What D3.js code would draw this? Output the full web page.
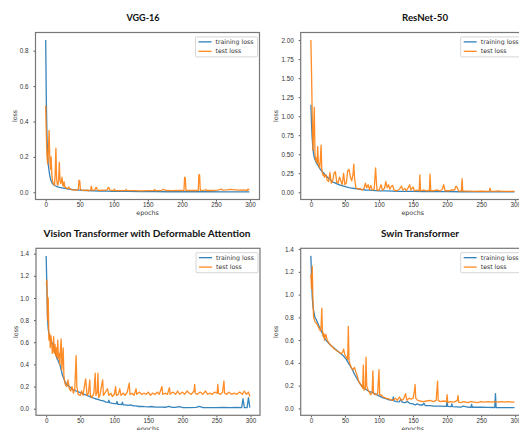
<!DOCTYPE html>
<html>
<head>
<meta charset="utf-8">
<script src="https://cdn.jsdelivr.net/npm/d3@7"></script>
<style>
  body { margin: 0; background: #fff; }
  svg { display: block; font-family: "DejaVu Sans", sans-serif; }
</style>
</head>
<body>
<svg id="chart" width="519" height="430"></svg>
<script>
// [epoch, loss] pairs
const vggTrain = [[0,0.86],[1,0.5],[2,0.3],[3,0.2],[4,0.15],[5,0.12],[6,0.095],[7,0.078],[8,0.065],[9,0.055],
  [10,0.048],[12,0.042],[14,0.037],[16,0.033],[18,0.03],[20,0.028],[24,0.025],[28,0.022],[32,0.019],[36,0.017],
  [40,0.015],[45,0.013],[50,0.012],[55,0.011],[60,0.01],[70,0.008],[80,0.007],[90,0.006],[100,0.005],[120,0.005],
  [140,0.004],[160,0.004],[180,0.003],[200,0.003],[220,0.003],[240,0.003],[260,0.002],[280,0.002],[299,0.002]];
const vggTest = [[0,0.49],[1,0.32],[2,0.2],[3,0.16],[4,0.24],[5,0.35],[6,0.2],[7,0.13],[8,0.2],[9,0.1],
  [10,0.065],[11,0.05],[12,0.045],[13,0.04],[14,0.11],[15,0.25],[16,0.08],[17,0.045],[18,0.04],[19,0.07],
  [20,0.17],[21,0.07],[22,0.05],[23,0.06],[24,0.085],[25,0.04],[26,0.035],[27,0.06],[28,0.03],[30,0.025],
  [32,0.02],[34,0.03],[35,0.02],[38,0.015],[42,0.012],[46,0.012],[48,0.02],[49,0.068],[50,0.065],[51,0.015],
  [55,0.01],[60,0.012],[63,0.01],[66,0.012],[67,0.035],[68,0.012],[72,0.012],[74,0.028],[75,0.025],[76,0.012],
  [80,0.01],[85,0.012],[90,0.012],[92,0.028],[93,0.025],[94,0.012],[100,0.01],[101,0.018],[102,0.01],[110,0.009],
  [117,0.01],[118,0.016],[119,0.01],[130,0.009],[140,0.008],[150,0.009],[159,0.01],[160,0.016],[161,0.009],[170,0.01],
  [172,0.016],[174,0.015],[176,0.01],[185,0.009],[195,0.01],[203,0.01],[204,0.085],[205,0.08],[206,0.01],[215,0.01],
  [224,0.01],[225,0.1],[226,0.098],[227,0.01],[234,0.012],[235,0.016],[236,0.01],[245,0.01],[252,0.012],[256,0.015],
  [258,0.018],[260,0.012],[265,0.013],[272,0.016],[278,0.014],[285,0.012],[290,0.013],[296,0.01],[297,0.018],[299,0.012]];

const resnetTrain = [[0,1.15],[1,0.88],[2,0.7],[3,0.58],[4,0.5],[5,0.46],[6,0.43],[7,0.41],[8,0.39],[9,0.37],
  [10,0.36],[11,0.345],[12,0.33],[13,0.315],[14,0.3],[15,0.29],[16,0.28],[17,0.27],[18,0.26],[19,0.25],
  [20,0.24],[22,0.22],[24,0.2],[26,0.185],[28,0.17],[30,0.15],[32,0.135],[36,0.12],[40,0.105],[44,0.09],
  [48,0.08],[52,0.07],[56,0.062],[60,0.056],[64,0.05],[68,0.045],[72,0.04],[76,0.035],[80,0.03],[85,0.028],
  [90,0.025],[95,0.023],[100,0.02],[110,0.018],[120,0.015],[130,0.013],[140,0.012],[150,0.011],[165,0.01],[180,0.009],
  [200,0.008],[220,0.007],[240,0.006],[260,0.006],[280,0.005],[299,0.005]];
const resnetTest = [[0,2.0],[1,1.55],[2,1.0],[3,0.55],[4,0.8],[5,1.12],[6,0.5],[7,0.42],[8,0.45],[9,0.38],
  [10,0.6],[11,0.4],[12,0.35],[13,0.32],[14,0.45],[15,0.62],[16,0.3],[17,0.25],[18,0.22],[19,0.24],
  [20,0.2],[22,0.23],[24,0.16],[26,0.14],[28,0.26],[30,0.12],[32,0.15],[34,0.25],[36,0.27],[38,0.13],
  [40,0.12],[42,0.2],[44,0.15],[46,0.1],[48,0.25],[50,0.1],[52,0.12],[54,0.28],[56,0.3],[58,0.2],
  [60,0.15],[62,0.25],[63,0.37],[64,0.2],[66,0.06],[68,0.05],[70,0.04],[72,0.05],[75,0.03],[78,0.05],
  [80,0.12],[82,0.06],[84,0.1],[86,0.04],[88,0.09],[90,0.03],[93,0.04],[95,0.32],[97,0.03],[100,0.025],
  [103,0.1],[105,0.03],[108,0.05],[110,0.14],[112,0.06],[114,0.1],[116,0.04],[118,0.08],[120,0.09],[122,0.03],
  [126,0.02],[130,0.04],[133,0.08],[135,0.03],[138,0.05],[140,0.02],[143,0.06],[145,0.1],[147,0.03],[150,0.07],
  [152,0.02],[156,0.03],[159,0.02],[160,0.23],[161,0.02],[165,0.03],[170,0.02],[174,0.02],[175,0.24],[176,0.02],
  [180,0.02],[185,0.03],[190,0.02],[193,0.04],[195,0.1],[197,0.02],[202,0.02],[207,0.03],[211,0.03],[213,0.08],
  [215,0.06],[217,0.015],[221,0.015],[222,0.18],[223,0.015],[230,0.015],[240,0.012],[250,0.015],[258,0.012],[262,0.015],
  [263,0.055],[264,0.015],[270,0.012],[275,0.02],[280,0.012],[290,0.012],[299,0.012]];

const vitTrain = [[0,1.38],[1,1.1],[2,0.82],[3,0.72],[4,0.68],[5,0.65],[6,0.63],[7,0.61],[8,0.6],[9,0.59],
  [10,0.58],[11,0.55],[12,0.53],[13,0.51],[14,0.49],[15,0.47],[16,0.45],[17,0.44],[18,0.43],[19,0.41],
  [20,0.4],[22,0.35],[24,0.3],[26,0.27],[28,0.24],[30,0.22],[32,0.21],[36,0.19],[40,0.17],[44,0.16],
  [48,0.15],[52,0.14],[56,0.13],[60,0.12],[64,0.11],[68,0.1],[72,0.09],[76,0.085],[80,0.075],[84,0.07],
  [88,0.06],[91,0.058],[92,0.078],[93,0.055],[96,0.05],[100,0.045],[103,0.045],[104,0.065],[105,0.04],[108,0.04],
  [111,0.038],[112,0.058],[113,0.035],[116,0.035],[120,0.03],[124,0.035],[128,0.025],[132,0.025],[136,0.02],[140,0.02],
  [145,0.018],[150,0.017],[155,0.02],[160,0.015],[165,0.014],[170,0.015],[175,0.013],[180,0.02],[185,0.012],[190,0.012],
  [195,0.018],[200,0.011],[210,0.01],[220,0.012],[225,0.02],[230,0.01],[240,0.01],[250,0.009],[260,0.012],[270,0.009],
  [280,0.012],[287,0.01],[289,0.09],[291,0.01],[295,0.01],[297,0.1],[299,0.01]];
const vitTest = [[0,1.12],[1,1.16],[2,0.8],[3,1.0],[4,0.62],[5,0.68],[6,0.55],[7,0.66],[8,0.6],[9,0.5],
  [10,0.52],[11,0.65],[12,0.5],[13,0.58],[14,0.48],[15,0.55],[16,0.46],[17,0.62],[18,0.45],[19,0.5],
  [20,0.4],[21,0.55],[22,0.63],[23,0.35],[24,0.45],[25,0.55],[26,0.3],[27,0.25],[28,0.22],[30,0.2],
  [32,0.26],[34,0.18],[36,0.16],[38,0.2],[40,0.14],[42,0.18],[44,0.48],[45,0.2],[47,0.13],[50,0.12],
  [52,0.16],[54,0.12],[56,0.2],[58,0.27],[60,0.12],[62,0.14],[64,0.26],[65,0.12],[67,0.1],[70,0.14],
  [72,0.32],[73,0.12],[75,0.15],[76,0.32],[77,0.1],[79,0.12],[81,0.2],[83,0.26],[84,0.12],[87,0.15],
  [90,0.18],[92,0.12],[95,0.14],[97,0.11],[100,0.13],[102,0.2],[103,0.12],[106,0.13],[108,0.18],[110,0.12],
  [113,0.14],[116,0.12],[119,0.15],[122,0.23],[123,0.13],[126,0.14],[129,0.12],[132,0.18],[133,0.13],[137,0.15],
  [140,0.13],[144,0.14],[147,0.13],[150,0.15],[153,0.12],[156,0.14],[160,0.13],[163,0.15],[166,0.13],[170,0.2],
  [171,0.13],[175,0.14],[178,0.13],[181,0.19],[182,0.13],[186,0.15],[190,0.13],[193,0.16],[196,0.13],[200,0.15],
  [203,0.13],[207,0.16],[210,0.14],[213,0.13],[217,0.16],[218,0.22],[219,0.14],[222,0.13],[226,0.15],[230,0.13],
  [234,0.16],[237,0.13],[240,0.14],[244,0.13],[247,0.15],[251,0.14],[252,0.22],[253,0.14],[256,0.13],[259,0.15],
  [261,0.25],[262,0.14],[265,0.13],[268,0.15],[272,0.13],[276,0.14],[280,0.13],[284,0.15],[288,0.13],[291,0.16],
  [294,0.13],[297,0.15],[299,0.11]];

const swinTrain = [[0,1.34],[1,1.15],[2,0.98],[3,0.9],[4,0.86],[5,0.83],[6,0.8],[8,0.78],[10,0.75],[12,0.72],
  [14,0.7],[16,0.67],[18,0.65],[20,0.62],[22,0.6],[25,0.58],[28,0.56],[32,0.54],[36,0.52],[40,0.5],
  [44,0.48],[48,0.46],[52,0.43],[55,0.4],[58,0.37],[61,0.34],[64,0.3],[67,0.27],[70,0.24],[73,0.21],
  [76,0.19],[80,0.17],[85,0.15],[90,0.14],[95,0.125],[100,0.11],[105,0.095],[110,0.085],[115,0.075],[120,0.07],
  [121,0.1],[122,0.065],[125,0.06],[130,0.058],[132,0.08],[134,0.055],[138,0.05],[142,0.06],[145,0.045],[150,0.04],
  [153,0.03],[156,0.04],[160,0.03],[164,0.03],[166,0.045],[168,0.025],[175,0.025],[180,0.02],[190,0.02],[199,0.018],
  [200,0.06],[201,0.018],[206,0.015],[207,0.04],[208,0.015],[220,0.012],[224,0.02],[230,0.012],[235,0.01],[236,0.035],
  [237,0.01],[250,0.01],[260,0.009],[270,0.008],[271,0.13],[272,0.008],[285,0.007],[299,0.006]];
const swinTest = [[0,1.18],[1,1.05],[2,1.25],[3,0.95],[4,0.8],[5,0.78],[6,0.76],[8,0.75],[10,0.73],[12,0.7],
  [14,0.68],[15,0.72],[16,0.88],[17,0.68],[18,0.63],[19,0.66],[20,0.6],[21,0.64],[22,0.65],[24,0.6],
  [27,0.57],[30,0.55],[35,0.52],[40,0.5],[45,0.48],[47,0.5],[48,0.52],[50,0.47],[52,0.45],[54,0.43],
  [55,0.72],[56,0.42],[58,0.38],[60,0.35],[62,0.34],[64,0.36],[66,0.32],[68,0.29],[70,0.24],[72,0.22],
  [74,0.2],[76,0.18],[77,0.38],[78,0.16],[80,0.17],[81,0.45],[82,0.2],[84,0.16],[86,0.14],[88,0.12],
  [90,0.15],[91,0.33],[92,0.13],[95,0.12],[98,0.13],[100,0.34],[101,0.12],[103,0.12],[106,0.1],[110,0.09],
  [113,0.085],[116,0.08],[120,0.07],[124,0.09],[127,0.07],[130,0.1],[133,0.07],[136,0.08],[139,0.13],[141,0.07],
  [144,0.09],[147,0.08],[150,0.09],[152,0.15],[153,0.21],[154,0.09],[157,0.07],[160,0.065],[165,0.06],[170,0.065],
  [175,0.07],[180,0.06],[184,0.07],[186,0.24],[187,0.07],[190,0.06],[195,0.065],[199,0.06],[200,0.12],[201,0.05],
  [205,0.06],[210,0.055],[215,0.07],[216,0.115],[217,0.055],[220,0.05],[225,0.06],[230,0.05],[235,0.06],[240,0.055],
  [245,0.05],[250,0.06],[255,0.055],[260,0.06],[265,0.055],[270,0.06],[275,0.055],[280,0.06],[285,0.055],[290,0.06],
  [295,0.055],[299,0.055]];

const titles = ['VGG-16', 'ResNet-50', 'Vision Transformer with Deformable Attention', 'Swin Transformer'];
const xTicks = [0, 50, 100, 150, 200, 250, 300];
const yTicksVgg = [0, 0.2, 0.4, 0.6, 0.8];
const yTicksResnet = [0, 0.25, 0.5, 0.75, 1.0, 1.25, 1.5, 1.75, 2.0];
const yTicksVit = [0, 0.2, 0.4, 0.6, 0.8, 1.0, 1.2, 1.4];
const seriesNames = ['training loss', 'test loss'];

const panels = [
  {train: vggTrain, test: vggTest, yTicks: yTicksVgg, fmt: '.1f'},
  {train: resnetTrain, test: resnetTest, yTicks: yTicksResnet, fmt: '.2f'},
  {train: vitTrain, test: vitTest, yTicks: yTicksVit, fmt: '.1f'},
  {train: swinTrain, test: swinTest, yTicks: yTicksVit, fmt: '.1f'}
];

// where each axes box sits on the page
const W = 224, H = 167;
const layout = [
  {left: 35.5, top: 32.5, titleX: 143, titleW: 33},
  {left: 300.7, top: 32.5, titleX: 425, titleW: 46},
  {left: 36, top: 248.3, titleX: 147, titleW: 207},
  {left: 300.7, top: 248.3, titleX: 420, titleW: 78}
];
const colors = ['#1f77b4', '#ff7f0e'];

const svg = d3.select('#chart');
svg.append('rect').attr('width', 519).attr('height', 430).attr('fill', '#fff');

panels.forEach((p, i) => {
  const L = layout[i];
  const g = svg.append('g').attr('transform', `translate(${L.left},${L.top})`);

  const x = d3.scaleLinear().domain([-0.05 * 299, 299 * 1.05]).range([0, W]);
  const [lo, hi] = d3.extent(p.train.concat(p.test), d => d[1]);
  const pad = (hi - lo) * 0.05;
  const y = d3.scaleLinear().domain([lo - pad, hi + pad]).range([H, 0]);

  const line = d3.line().x(d => x(d[0])).y(d => y(d[1]));

  [p.train, p.test].forEach((s, k) => {
    g.append('path')
      .attr('d', line(s))
      .attr('fill', 'none')
      .attr('stroke', colors[k])
      .attr('stroke-width', 1.3)
      .attr('stroke-opacity', 0.9)
      .attr('stroke-linejoin', 'round');
  });

  const xa = g.append('g').attr('transform', `translate(0,${H})`)
    .call(d3.axisBottom(x).tickValues(xTicks).tickSize(2).tickPadding(1.5));
  const ya = g.append('g')
    .call(d3.axisLeft(y).tickValues(p.yTicks).tickFormat(d3.format(p.fmt)).tickSize(2).tickPadding(5));
  [xa, ya].forEach(a => {
    a.select('.domain').remove();
    a.selectAll('line').attr('stroke', '#555');
    a.selectAll('text').attr('font-size', 6.3).attr('fill', '#333');
  });

  g.append('rect').attr('width', W).attr('height', H)
    .attr('fill', 'none').attr('stroke', '#777').attr('stroke-width', 1.2);

  // legend
  const lg = g.append('g').attr('transform', 'translate(160,4.4)');
  lg.append('rect').attr('width', 62).attr('height', 20).attr('rx', 1)
    .attr('fill', '#fff').attr('stroke', '#ccc').attr('stroke-width', 0.8);
  seriesNames.forEach((n, k) => {
    const yy = 5 + k * 9.4;
    lg.append('line').attr('x1', 3).attr('x2', 16).attr('y1', yy).attr('y2', yy)
      .attr('stroke', colors[k]).attr('stroke-width', 1.2);
    lg.append('text').attr('x', 20).attr('y', yy).attr('dy', '0.35em')
      .attr('font-size', 6.2).attr('fill', '#333').text(n);
  });

  g.append('text')
    .attr('transform', `translate(${i % 2 ? -24.5 : -20.5},${H / 2}) rotate(-90)`)
    .attr('text-anchor', 'middle').attr('dy', '0.35em')
    .attr('font-size', 6.3).attr('fill', '#333').text('loss');
  g.append('text')
    .attr('x', W / 2).attr('y', H + 15.5)
    .attr('text-anchor', 'middle')
    .attr('font-size', 6.3).attr('fill', '#333').text('epochs');

  svg.append('text')
    .attr('x', L.titleX).attr('y', L.top - 11.5)
    .attr('text-anchor', 'middle')
    .attr('font-family', 'Lato, sans-serif').attr('font-weight', 'bold')
    .attr('font-size', 10).attr('fill', '#111')
    .attr('textLength', L.titleW).attr('lengthAdjust', 'spacingAndGlyphs')
    .text(titles[i]);
});
</script>
</body>
</html>
